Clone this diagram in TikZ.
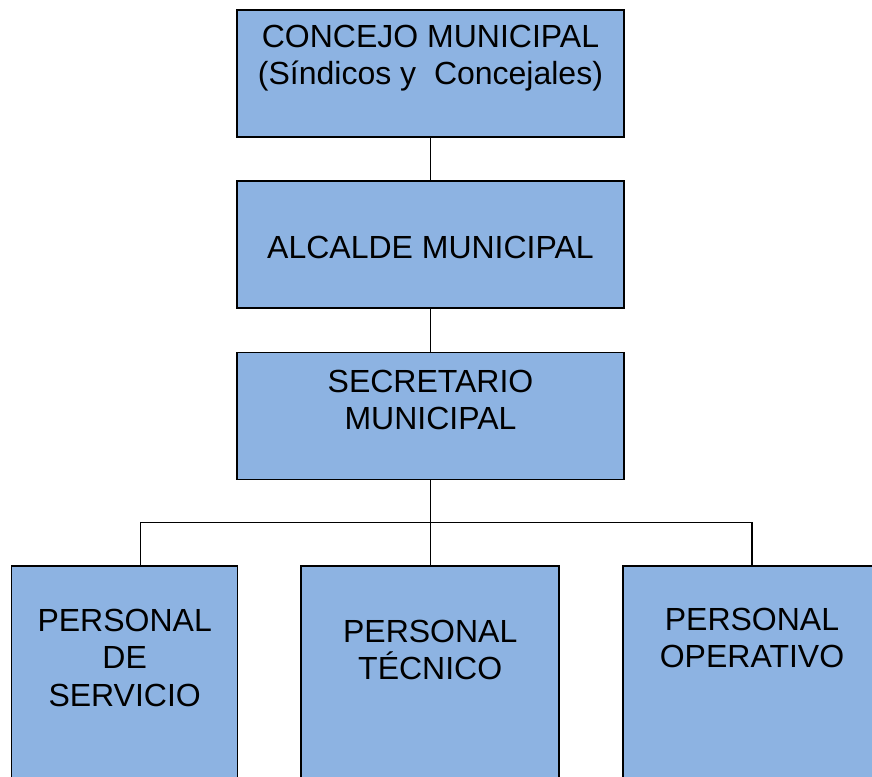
\documentclass[tikz,border=0pt]{standalone}
\usepackage{fontspec}
\setmainfont{Liberation Sans}
\definecolor{cajaazul}{RGB}{141,179,226}
\begin{document}
\begin{tikzpicture}[x=0.75pt,y=-0.75pt,inner sep=0pt,outer sep=0pt,line width=0.8pt,
caja/.style={draw,rectangle,fill=cajaazul,line width=1.1pt,minimum width=290.3pt,minimum height=95.3pt},
cajabaja/.style={draw,rectangle,fill=cajaazul,line width=1.1pt,minimum width=193.5pt,minimum height=198pt},
texto/.style={anchor=north,align=center,font=\fontsize{24}{28.2}\selectfont}]
\useasboundingbox (0,0) rectangle (872,776);
\clip (0,0) rectangle (872,776);
\draw (430.5,73.5) node[caja] (concejo) {};
\draw (430.5,244.5) node[caja] (alcalde) {};
\draw (430.5,416) node[caja] (secretario) {};
\draw (124.7,698) node[cajabaja,minimum width=169.5pt] (servicio) {};
\draw (430.2,698) node[cajabaja] (tecnico) {};
\draw (752,698) node[cajabaja] (operativo) {};
\draw (430.5,25) node[texto] (tconcejo) {CONCEJO MUNICIPAL\\(Síndicos y\ \ Concejales)};
\draw (430.5,236) node[texto] (talcalde) {ALCALDE MUNICIPAL};
\draw (430.5,370) node[texto] (tsecretario) {SECRETARIO\\MUNICIPAL};
\draw (124.7,609) node[texto] (tservicio) {PERSONAL\\DE\\SERVICIO};
\draw (430.2,620) node[texto] (ttecnico) {PERSONAL\\TÉCNICO};
\draw (752,608) node[texto] (toperativo) {PERSONAL\\OPERATIVO};
\draw (concejo) -- (alcalde);
\draw (alcalde) -- (secretario);
\draw (secretario.south) -- ++(0,43) coordinate (bus);
\draw (bus) -- (tecnico.north -| bus);
\draw (bus) -| ([xshift=11.5pt]servicio.north);
\draw (bus) -| (operativo.north);
\end{tikzpicture}
\end{document}
